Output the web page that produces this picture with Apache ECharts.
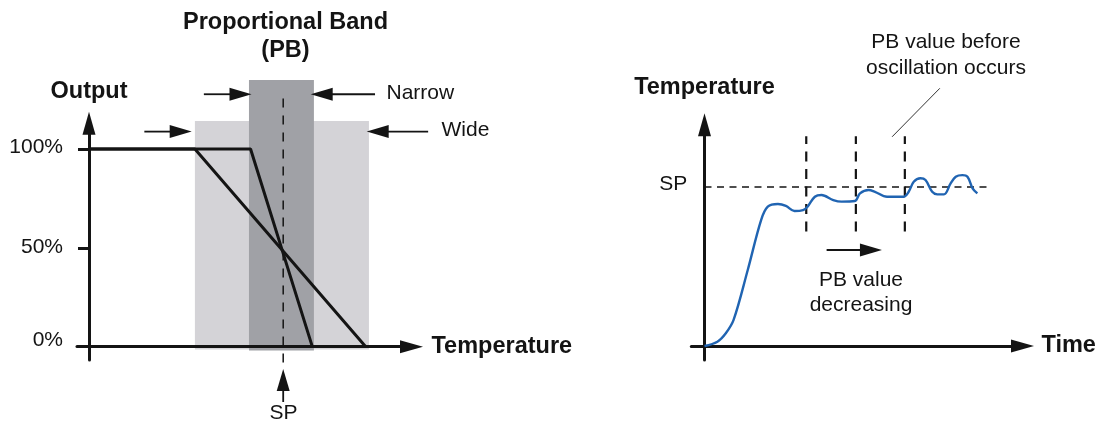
<!DOCTYPE html>
<html><head><meta charset="utf-8">
<script src="https://cdn.jsdelivr.net/npm/echarts@6/dist/echarts.min.js"></script>
<style>html,body{margin:0;padding:0;background:#fff}#chart{width:1103px;height:423px}</style>
</head><body><div id="chart"></div>
<script>
// ---------------- Left panel: Output vs Temperature ----------------
const outputTicks = [0, 50, 100];
const outputTickLabels = ['0%', '50%', '100%'];
const setPointTemp = 60.7;
const wideBand = [33.1, 87.5, -1.5, 114.2];     // [tempFrom, tempTo, outFrom, outTo]
const narrowBand = [50.0, 70.3, -2.0, 134.9];
const wideLine = [[0, 100], [33.1, 100], [86.5, 0]];
const narrowLine = [[0, 100], [50.5, 100], [69.8, 0]];
const narrowArrows = [[35.9, 127.7, 50.8, 127.7], [89.4, 127.7, 69.3, 127.7]]; // [fromT, fromO, tipT, tipO]
const wideArrows = [[17.3, 108.8, 32.1, 108.8], [106.0, 108.8, 86.8, 108.8]];
const spArrow = [setPointTemp, -28, setPointTemp, -11.3];
const spGuide = [setPointTemp, -8, setPointTemp, 129];

// ---------------- Right panel: Temperature vs Time ----------------
const timeValues = [0, 4.06, 6.7, 9.15, 13.6, 17.8, 19.9, 23.1, 25.6, 28.3, 31.0, 32.4, 34.7, 36.8, 40.5, 43.1, 47.3, 48.9, 51.6, 53.6, 57.4, 62.6, 64.2, 65.8, 67.9, 69.5, 71.6, 73.2, 75.3, 77.4, 79.0, 81.1, 82.7, 84.3, 85.8];
const tempValues = [0, 2.7, 8.0, 16.4, 47.8, 79.2, 87.6, 89.3, 88.1, 84.9, 85.5, 87.6, 93.9, 95.0, 91.8, 90.8, 91.2, 96.0, 98.1, 97.0, 93.9, 93.9, 97.0, 103.3, 105.5, 104.4, 97.0, 95.4, 95.4, 102.3, 106.5, 107.5, 106.5, 99.2, 96.0];
const spTemp = 100;
const spGuideRight = [0, spTemp, 90.4, spTemp];
const pbStepTimes = [32.0, 47.6, 63.0];
const pbStepRange = [72, 132];
const decreasingArrow = [38.4, 60.4, 55.8, 60.4];
const leaderLine = [74.0, 162.1, 59.0, 131.6];

const INK = '#141414';
const FONT = '"Liberation Sans", Arial, Helvetica, sans-serif';

function arrowItem(params, api) {
  const a = api.coord([api.value(0), api.value(1)]);
  const b = api.coord([api.value(2), api.value(3)]);
  const dx = b[0] - a[0], dy = b[1] - a[1];
  const len = Math.hypot(dx, dy) || 1;
  const ux = dx / len, uy = dy / len;
  const L = 22, W = 6.5;
  const bx = b[0] - ux * L, by = b[1] - uy * L;
  return {
    type: 'group', children: [
      { type: 'line', shape: { x1: a[0], y1: a[1], x2: bx + ux * 2, y2: by + uy * 2 }, style: { stroke: INK, lineWidth: 1.8 } },
      { type: 'polygon', shape: { points: [[b[0], b[1]], [bx - uy * W, by + ux * W], [bx + uy * W, by - ux * W]] }, style: { fill: INK } }
    ]
  };
}
function dashItem(dash, width, color) {
  return function (params, api) {
    const a = api.coord([api.value(0), api.value(1)]);
    const b = api.coord([api.value(2), api.value(3)]);
    return { type: 'line', shape: { x1: a[0], y1: a[1], x2: b[0], y2: b[1] }, style: { stroke: color, lineWidth: width, lineDash: dash } };
  };
}
const bandColors = ['#d4d3d7', '#a0a1a6'];

const axisLineStyle = { color: INK, width: 3 };
const nameStyle = { fontFamily: FONT, fontWeight: 'bold', fontSize: 23.5, color: INK };
const labelFont = { fontFamily: FONT, fontSize: 21, color: INK };

function txt(x, y, text, align, bold) {
  return { type: 'text', x: x, y: y, style: { text: text, fontFamily: FONT, fontWeight: bold ? 'bold' : 'normal', fontSize: bold ? 23.5 : 21, fill: INK, align: align, verticalAlign: 'middle', textAlign: align, textVerticalAlign: 'middle' } };
}

const chart = echarts.init(document.getElementById('chart'), null, { renderer: 'canvas' });
chart.setOption({
  animation: false,
  backgroundColor: '#ffffff',
  grid: [
    { left: 77, top: 123.3, width: 334.5, height: 236.6 },
    { left: 691.3, top: 124.7, width: 331.2, height: 235.3 }
  ],
  xAxis: [
    {
      type: 'value', gridIndex: 0, min: -3.75, max: 100.8, z: 3,
      axisLine: { onZero: true, symbol: ['none', 'triangle'], symbolSize: [13, 23], lineStyle: axisLineStyle },
      axisTick: { show: false }, axisLabel: { show: false }, splitLine: { show: false },
      name: 'Temperature', nameLocation: 'end', nameGap: 20, nameTextStyle: nameStyle
    },
    {
      type: 'value', gridIndex: 1, min: -4.15, max: 100, z: 3,
      axisLine: { onZero: true, symbol: ['none', 'triangle'], symbolSize: [13, 23], lineStyle: axisLineStyle },
      axisTick: { show: false }, axisLabel: { show: false }, splitLine: { show: false },
      name: 'Time', nameLocation: 'end', nameGap: 19, nameTextStyle: nameStyle
    }
  ],
  yAxis: [
    {
      type: 'value', gridIndex: 0, min: -6.7, max: 113, z: 3,
      axisLine: { onZero: true, symbol: ['none', 'triangle'], symbolSize: [13, 23], lineStyle: axisLineStyle },
      axisTick: { show: true, customValues: outputTicks, length: 11, lineStyle: { color: INK, width: 3 } },
      axisLabel: {
        show: true, customValues: outputTicks, margin: 14,
        formatter: function (v) { const i = outputTicks.indexOf(v); return '{t' + v + '|' + outputTickLabels[i] + '}'; },
        rich: {
          t0: Object.assign({ padding: [0, 0, 12, 0] }, labelFont),
          t50: Object.assign({ padding: [0, 0, 2, 0] }, labelFont),
          t100: Object.assign({ padding: [0, 0, 4, 0] }, labelFont)
        }
      },
      splitLine: { show: false },
      name: 'Output', nameLocation: 'end', nameGap: 20, nameTextStyle: nameStyle
    },
    {
      type: 'value', gridIndex: 1, min: -8.8, max: 139.2, z: 3,
      axisLine: { onZero: true, symbol: ['none', 'triangle'], symbolSize: [13, 23], lineStyle: axisLineStyle },
      axisTick: { show: false },
      axisLabel: {
        show: true, customValues: [spTemp], margin: 4,
        formatter: function () { return '{sp|SP}'; },
        rich: { sp: Object.assign({ padding: [0, 0, 6, 0] }, labelFont) }
      },
      splitLine: { show: false },
      name: 'Temperature', nameLocation: 'end', nameGap: 25, nameTextStyle: nameStyle
    }
  ],
  series: [
    {
      name: 'bands', type: 'custom', xAxisIndex: 0, yAxisIndex: 0, z: 1,
      data: [wideBand, narrowBand],
      encode: { x: [0, 1], y: [2, 3] },
      renderItem: function (params, api) {
        const p0 = api.coord([api.value(0), api.value(3)]);
        const p1 = api.coord([api.value(1), api.value(2)]);
        return { type: 'rect', shape: { x: p0[0], y: p0[1], width: p1[0] - p0[0], height: p1[1] - p0[1] }, style: { fill: bandColors[params.dataIndex] } };
      }
    },
    {
      name: 'SP guide', type: 'custom', xAxisIndex: 0, yAxisIndex: 0, z: 4,
      data: [spGuide], encode: { x: [0, 2], y: [1, 3] },
      renderItem: dashItem([9, 8], 1.5, INK)
    },
    {
      name: 'Wide PB', type: 'line', xAxisIndex: 0, yAxisIndex: 0, z: 5, data: wideLine,
      symbol: 'none', lineStyle: { color: INK, width: 3 }, clip: false
    },
    {
      name: 'Narrow PB', type: 'line', xAxisIndex: 0, yAxisIndex: 0, z: 5, data: narrowLine,
      symbol: 'none', lineStyle: { color: INK, width: 3 }, clip: false
    },
    {
      name: 'left arrows', type: 'custom', xAxisIndex: 0, yAxisIndex: 0, z: 6,
      data: narrowArrows.concat(wideArrows).concat([spArrow]), encode: { x: [0, 2], y: [1, 3] },
      renderItem: arrowItem
    },
    {
      name: 'SP line', type: 'custom', xAxisIndex: 1, yAxisIndex: 1, z: 4,
      data: [spGuideRight], encode: { x: [0, 2], y: [1, 3] },
      renderItem: dashItem([7, 5.5], 1.3, INK)
    },
    {
      name: 'PB steps', type: 'custom', xAxisIndex: 1, yAxisIndex: 1, z: 4,
      data: pbStepTimes.map(function (t) { return [t, pbStepRange[0], t, pbStepRange[1]]; }), encode: { x: [0, 2], y: [1, 3] },
      renderItem: dashItem([10, 7.5], 2.2, INK)
    },
    {
      name: 'leader', type: 'custom', xAxisIndex: 1, yAxisIndex: 1, z: 4,
      data: [leaderLine], encode: { x: [0, 2], y: [1, 3] },
      renderItem: dashItem(null, 1, '#333')
    },
    {
      name: 'decreasing arrow', type: 'custom', xAxisIndex: 1, yAxisIndex: 1, z: 6,
      data: [decreasingArrow], encode: { x: [0, 2], y: [1, 3] },
      renderItem: arrowItem
    },
    {
      name: 'Temperature', type: 'line', xAxisIndex: 1, yAxisIndex: 1, z: 5,
      data: timeValues.map(function (t, i) { return [t, tempValues[i]]; }),
      symbol: 'none', smooth: 0.35, lineStyle: { color: '#2064b2', width: 2.4 }, clip: false
    }
  ],
  graphic: [
    txt(285.5, 23, 'Proportional Band', 'center', true),
    txt(285.5, 51, '(PB)', 'center', true),
    txt(386.5, 93, 'Narrow', 'left', false),
    txt(441.5, 130, 'Wide', 'left', false),
    txt(283.5, 413, 'SP', 'center', false),
    txt(946, 42, 'PB value before', 'center', false),
    txt(946, 68, 'oscillation occurs', 'center', false),
    txt(861, 280, 'PB value', 'center', false),
    txt(861, 305, 'decreasing', 'center', false)
  ]
});
</script>
</body></html>
